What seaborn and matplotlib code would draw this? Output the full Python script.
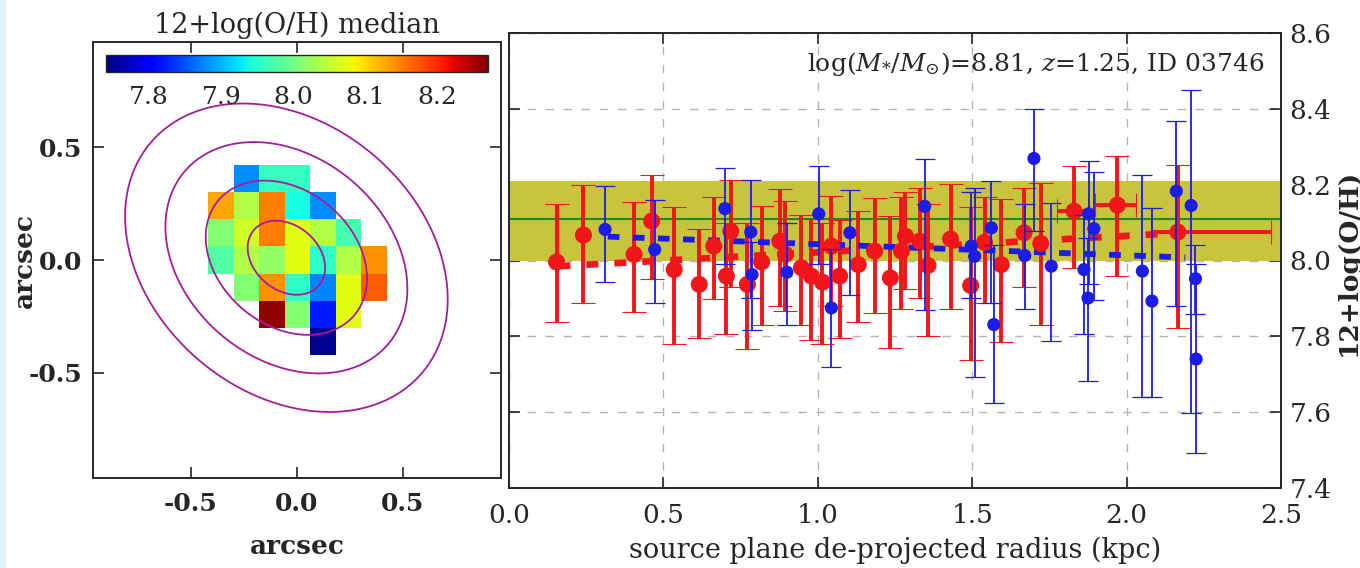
import numpy as np
import pandas as pd
import matplotlib
matplotlib.use('Agg')
import matplotlib.pyplot as plt
from matplotlib.patches import Rectangle
import seaborn as sns

# ---------------- data ----------------
# metallicity map (rows from top to bottom, columns left to right), arcsec grid
map_edges = [-0.42, 0.42]
map_rows = [
    [np.nan, 7.88, 7.96, 7.96, np.nan, np.nan, np.nan],
    [8.13, 8.04, 8.15, 7.94, 7.88, np.nan, np.nan],
    [8.01, 8.06, 8.15, 8.07, 8.04, 7.97, np.nan],
    [7.98, 8.04, 8.02, 8.07, 7.955, 8.04, 8.14],
    [np.nan, 8.01, 8.14, 7.955, 7.875, 8.07, 8.17],
    [np.nan, np.nan, 8.26, 8.01, 7.82, 8.07, np.nan],
    [np.nan, np.nan, np.nan, np.nan, 7.75, np.nan, np.nan],
]
cbar_min, cbar_max = 7.74, 8.27
cbar_ticks = [7.8, 7.9, 8.0, 8.1, 8.2]

# flux contours: elliptical isophotes
iso_center = (-0.05, 0.01)
iso_a, iso_b, iso_pa = 0.82, 0.61, -34.0
iso_levels = [0.24, 0.5, 0.75, 1.0]

# radial profile, red points
red_r = [0.154, 0.241, 0.405, 0.462, 0.535, 0.616, 0.663, 0.704, 0.718, 0.772,
         0.818, 0.877, 0.895, 0.947, 0.979, 1.015, 1.044, 1.071, 1.131, 1.184,
         1.235, 1.271, 1.284, 1.330, 1.357, 1.430, 1.495, 1.540, 1.594, 1.668,
         1.722, 1.830, 1.970, 2.166]
red_z = [7.996, 8.067, 8.016, 8.104, 7.976, 7.937, 8.038, 7.959, 8.077, 7.937,
         7.996, 8.051, 8.016, 7.981, 7.959, 7.943, 8.038, 7.959, 7.989, 8.025,
         7.954, 8.025, 8.064, 8.051, 7.987, 8.057, 7.934, 8.048, 7.989, 8.073,
         8.045, 8.130, 8.146, 8.075]
red_lo = [7.837, 7.888, 7.863, 7.952, 7.781, 7.796, 7.899, 7.805, 7.930, 7.767,
          7.831, 7.879, 7.866, 7.831, 7.791, 7.780, 7.880, 7.796, 7.837, 7.862,
          7.768, 7.871, 7.925, 7.901, 7.800, 7.871, 7.737, 7.888, 7.785, 7.930,
          7.831, 7.981, 7.960, 7.822]
red_hi = [8.148, 8.198, 8.154, 8.225, 8.142, 8.082, 8.168, 8.100, 8.212, 8.100,
          8.143, 8.189, 8.157, 8.119, 8.110, 8.100, 8.170, 8.108, 8.130, 8.166,
          8.117, 8.168, 8.180, 8.190, 8.150, 8.203, 8.140, 8.168, 8.161, 8.192,
          8.205, 8.249, 8.276, 8.251]
red_xlo = [0.0] * 31 + [0.055, 0.073, 0.086]
red_xhi = [0.0] * 31 + [0.045, 0.061, 0.300]

# blue points
blue_r = [0.311, 0.472, 0.699, 0.783, 0.787, 0.900, 1.003, 1.044, 1.104, 1.346,
          1.497, 1.508, 1.562, 1.570, 1.670, 1.700, 1.756, 1.862, 1.875, 1.877,
          1.894, 2.051, 2.082, 2.161, 2.209, 2.223, 2.225]
blue_z = [8.082, 8.029, 8.137, 8.075, 7.963, 7.969, 8.123, 7.875, 8.073, 8.143,
          8.038, 8.011, 8.086, 7.831, 8.013, 8.269, 7.985, 7.976, 7.901, 8.123,
          8.084, 7.972, 7.893, 8.183, 8.145, 7.952, 7.740]
blue_lo = [7.943, 7.888, 7.990, 7.900, 7.818, 7.831, 7.990, 7.719, 7.908, 7.870,
           7.900, 7.693, 7.888, 7.624, 7.873, 8.077, 7.787, 7.805, 7.681, 7.938,
           7.895, 7.641, 7.641, 7.879, 7.598, 7.860, 7.492]
blue_hi = [8.196, 8.159, 8.243, 8.212, 8.050, 8.100, 8.249, 8.030, 8.186, 8.269,
           8.180, 8.190, 8.210, 8.040, 8.150, 8.400, 8.152, 8.120, 8.060, 8.262,
           8.233, 8.225, 8.139, 8.368, 8.450, 8.042, 7.990]

# linear fits
red_fit_r = [0.16, 2.16]
red_fit_z = [7.985, 8.072]
blue_fit_r = [0.32, 2.19]
blue_fit_z = [8.063, 8.008]

# global value band
band_lo, band_hi, band_mid = 8.0, 8.21, 8.11

x_ticks_map = [-0.5, 0.0, 0.5]
x_ticks_r = [0.0, 0.5, 1.0, 1.5, 2.0, 2.5]
y_ticks_r = [7.4, 7.6, 7.8, 8.0, 8.2, 8.4, 8.6]
annot = r'$\log(M_{*}/M_{\odot})$=8.81, $z$=1.25, ID 03746'

# ---------------- style ----------------
sns.set_style('ticks')
plt.rcParams['font.family'] = ['DejaVu Serif']
plt.rcParams['mathtext.fontset'] = 'dejavuserif'
plt.rcParams['axes.unicode_minus'] = False

W, H = 1360, 568
fig = plt.figure(figsize=(W / 100, H / 100), dpi=100)
fig.patches.append(Rectangle((0, 0), 5 / W, 1, transform=fig.transFigure,
                             color='#e4f3f7', zorder=0))


def box(x0, y0, x1, y1):
    return [x0 / W, 1 - y1 / H, (x1 - x0) / W, (y1 - y0) / H]


axL = fig.add_axes(box(93, 42, 501, 478))
axR = fig.add_axes(box(509, 33, 1281, 488))
cax = fig.add_axes(box(106, 55, 488, 72))

FS = 19

# ---------------- left: map ----------------
grid = np.array(map_rows)
im = axL.imshow(grid, cmap='jet', vmin=cbar_min, vmax=cbar_max,
                extent=[map_edges[0], map_edges[1], map_edges[0], map_edges[1]],
                origin='upper', interpolation='nearest', zorder=1)
gx, gy = np.meshgrid(np.linspace(-1, 1, 401), np.linspace(-1, 1, 401))
th = np.deg2rad(iso_pa)
dx, dy = gx - iso_center[0], gy - iso_center[1]
u = dx * np.cos(th) + dy * np.sin(th)
v = -dx * np.sin(th) + dy * np.cos(th)
rr = np.sqrt((u / iso_a) ** 2 + (v / iso_b) ** 2)
axL.contour(gx, gy, rr, levels=iso_levels, colors='#a0209a', linewidths=1.3,
            zorder=2)
axL.set_xlim(-0.962, 0.962)
axL.set_ylim(-0.965, 0.965)
axL.set_aspect('auto')
axL.set_xticks(x_ticks_map)
axL.set_yticks(x_ticks_map)
axL.set_xticklabels(['%.1f' % t for t in x_ticks_map], fontweight='bold')
axL.set_yticklabels(['%.1f' % t for t in x_ticks_map], fontweight='bold')
axL.tick_params(direction='in', top=True, right=True, length=8, width=1.2,
                labelsize=18, pad=8)
axL.tick_params(axis='x', pad=10)
for s in axL.spines.values():
    s.set_linewidth(1.4)
axL.set_xlabel('arcsec', fontsize=FS, fontweight='bold', labelpad=13)
axL.set_ylabel('arcsec', fontsize=FS, fontweight='bold', va='center',
               ha='center')
axL.yaxis.set_label_coords(24 / W, 1 - 260 / H, transform=fig.transFigure)

cb = fig.colorbar(im, cax=cax, orientation='horizontal', ticks=cbar_ticks)
cb.outline.set_linewidth(1.0)
cax.tick_params(direction='in', length=5, width=1, labelsize=18, pad=10,
                bottom=True, top=False)
cax.set_xticklabels(['%.1f' % t for t in cbar_ticks])
fig.text(297 / W, 1 - 25 / H, '12+log(O/H) median', ha='center', va='center',
         fontsize=19.5)

# ---------------- right: radial profile ----------------
axR.set_axisbelow(True)
axR.grid(True, ls=(0, (6, 7)), color='#b4b4b4', lw=1.0)
axR.axhspan(band_lo, band_hi, color='#c9c43e', zorder=1, lw=0)
axR.axhline(band_mid, color='#1c8c1c', lw=1.5, zorder=1.5)

rz = np.array(red_z)
axR.errorbar(red_r, red_z, yerr=[rz - np.array(red_lo), np.array(red_hi) - rz],
             xerr=[red_xlo, red_xhi], fmt='none', ecolor='#f0161a',
             elinewidth=2.8, capsize=8.5, capthick=0.8, zorder=3)
bz = np.array(blue_z)
axR.errorbar(blue_r, blue_z, yerr=[bz - np.array(blue_lo), np.array(blue_hi) - bz],
             fmt='none', ecolor='#1c1ce6', elinewidth=1.3, capsize=7,
             capthick=0.9, zorder=5)
axR.plot(red_fit_r, red_fit_z, color='#f0161a', lw=4.8,
         ls=(0, (1.8, 2.4)), solid_capstyle='butt', zorder=3.5)
axR.plot(blue_fit_r, blue_fit_z, color='#1c1ce6', lw=4.2,
         ls=(0, (2.0, 2.3)), solid_capstyle='butt', zorder=3.5)

df_red = pd.DataFrame({'r': red_r, 'z': red_z})
df_blue = pd.DataFrame({'r': blue_r, 'z': blue_z})
sns.scatterplot(data=df_red, x='r', y='z', color='#f0161a', s=150,
                edgecolor='none', ax=axR, zorder=4, legend=False)
sns.scatterplot(data=df_blue, x='r', y='z', color='#1c1ce6', s=90,
                edgecolor='none', ax=axR, zorder=6, legend=False)

axR.set_xlim(0, 2.5)
axR.set_ylim(7.4, 8.6)
axR.set_xticks(x_ticks_r)
axR.set_yticks(y_ticks_r)
axR.set_xticklabels(['%.1f' % t for t in x_ticks_r])
axR.set_yticklabels(['%.1f' % t for t in y_ticks_r])
axR.tick_params(direction='in', top=True, right=True, left=True,
                labelleft=False, labelright=True, length=8, width=1.2,
                labelsize=FS, pad=6)
axR.tick_params(axis='x', pad=11)
for s in axR.spines.values():
    s.set_linewidth(1.4)
axR.set_ylabel('12+log(O/H)', fontsize=FS, fontweight='bold', va='center',
               ha='center', rotation=90)
axR.yaxis.set_label_coords(1348 / W, 1 - 262 / H, transform=fig.transFigure)
axR.set_xlabel('source plane de-projected radius (kpc)', fontsize=19.5,
               labelpad=6)
axR.text(2.447, 8.518, annot, ha='right', va='center', fontsize=18)

fig.savefig('out.png', dpi=100, facecolor='white')
